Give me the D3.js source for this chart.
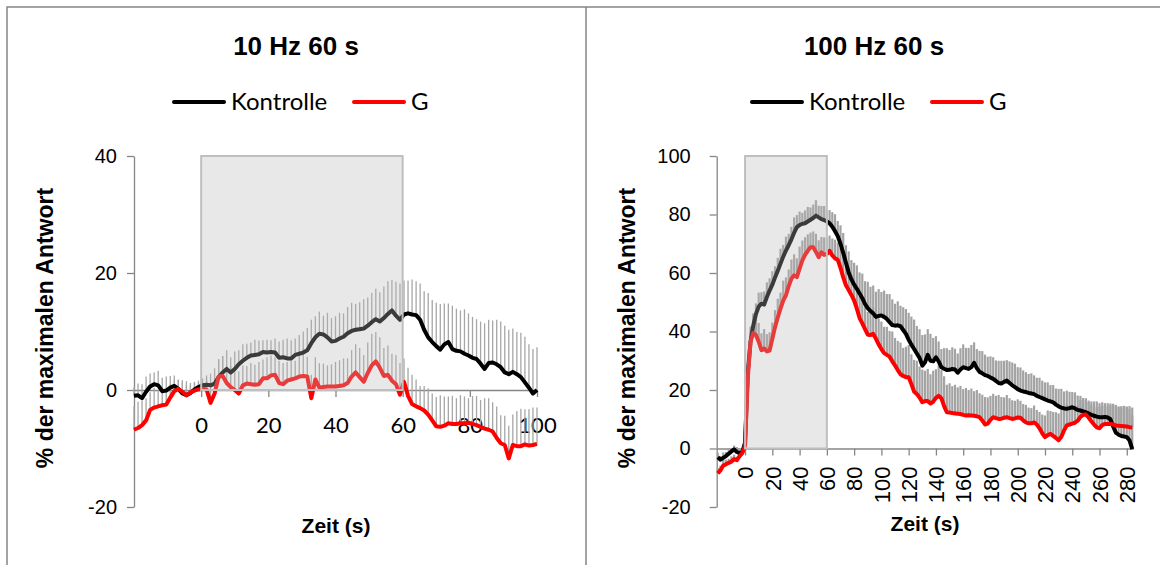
<!DOCTYPE html>
<html>
<head>
<meta charset="utf-8">
<script src="https://cdn.jsdelivr.net/npm/d3@7"></script>
<style>
  body { margin: 0; background: #fff; }
  svg { display: block; font-family: "Liberation Sans", Arial, sans-serif; }
</style>
</head>
<body>
<svg id="chart" width="1160" height="565"></svg>
<script>
// ---- data ----
// 10 Hz panel: samples every 1.2 s from -20 s
var start10 = -20, step10 = 1.2;
var kontrolle10 = [
  -1.0,-0.9,-1.4,-0.3,0.6,1.0,0.8,-0.2,-0.1,0.4,
  0.7,0.2,-0.6,-0.9,-0.5,0.1,0.5,0.8,0.9,0.8,
  1.1,2.2,3.0,3.6,3.0,3.6,4.4,5.0,5.5,5.9,
  6.0,6.1,6.5,6.4,6.5,6.4,5.5,5.6,5.4,5.4,
  6.0,6.2,6.4,6.8,8.0,9.0,9.6,9.5,9.0,8.3,
  8.4,8.8,9.1,9.7,10.1,10.3,10.4,10.5,11.0,11.6,
  12.1,11.7,12.3,13.0,13.6,12.7,12.0,12.9,13.1,12.9,
  12.8,12.0,10.3,9.0,8.2,7.5,6.9,7.8,8.2,7.0,
  6.7,6.6,6.2,5.9,5.5,5.3,4.5,3.6,4.6,4.7,
  4.4,3.9,3.0,2.7,3.1,2.7,2.2,1.3,0.4,-0.6,
  0.0];
var kontrolle10Err = [
  1.5,2.0,2.4,2.6,2.2,2.0,2.5,2.3,2.4,2.0,
  1.8,1.6,1.9,1.7,1.4,1.3,1.1,1.2,1.6,2.0,
  2.6,3.0,2.8,3.2,2.6,3.0,2.4,2.8,2.4,2.2,
  2.6,2.3,2.0,2.2,2.0,2.4,2.8,3.0,3.4,3.1,
  2.8,3.2,3.6,3.8,4.0,3.6,3.8,3.2,4.2,4.0,
  4.2,4.4,4.0,4.5,4.8,4.4,4.6,5.0,4.8,5.0,
  5.2,5.0,5.4,5.6,5.2,5.8,6.2,5.8,5.6,6.0,
  5.8,6.2,6.6,7.6,7.2,7.4,7.8,7.0,6.6,7.4,
  7.2,7.0,7.6,7.2,7.0,6.8,7.2,7.8,7.4,7.2,
  7.6,7.8,8.0,7.6,7.4,7.2,7.6,7.8,7.4,7.6,
  7.3];
var g10 = [
  -6.8,-6.5,-6.0,-5.2,-3.4,-3.0,-2.8,-2.6,-2.5,-1.3,
  -0.2,0.2,-0.3,-0.9,-0.4,-0.1,0.1,0.2,0.1,-2.2,
  -0.6,2.3,2.4,1.2,0.5,0.0,-0.6,0.8,1.1,1.0,
  0.9,1.0,2.0,2.0,2.5,2.6,1.2,1.0,1.6,1.8,
  2.0,2.3,2.4,2.3,-1.4,1.8,0.4,0.5,0.6,0.6,
  0.6,0.7,0.8,1.2,2.3,3.0,2.2,1.4,2.9,4.2,
  4.9,3.8,2.4,2.6,1.6,1.0,-0.8,1.4,-1.0,-2.4,
  -2.8,-3.1,-3.5,-4.2,-5.2,-6.2,-6.3,-6.1,-5.7,-5.8,
  -5.8,-5.7,-5.7,-5.6,-5.8,-6.0,-6.3,-6.6,-6.8,-7.1,
  -8.2,-9.1,-9.4,-11.7,-9.4,-9.6,-9.6,-9.3,-9.5,-9.4,
  -9.2];
var g10Err = [
  4.0,4.5,4.2,3.8,3.0,3.4,2.8,3.2,2.6,2.2,
  1.8,1.5,2.0,2.4,1.6,1.4,1.2,1.5,2.0,3.2,
  2.6,3.0,3.4,3.0,3.6,3.2,3.8,3.4,3.0,3.6,
  3.4,3.8,3.2,3.6,3.4,3.0,3.8,3.6,3.2,3.4,
  3.0,3.6,4.8,3.4,4.0,3.8,4.2,4.0,3.6,3.8,
  4.2,4.4,4.6,4.2,4.5,4.8,5.0,4.6,5.2,5.4,
  5.0,5.2,4.8,5.0,4.6,5.0,5.4,4.0,4.8,5.0,
  4.6,3.8,4.2,4.5,4.6,5.0,5.4,5.0,4.6,4.8,
  4.4,4.8,4.6,4.2,4.8,5.0,4.6,5.2,5.4,5.0,
  5.4,4.8,5.0,5.6,5.2,6.0,6.4,6.0,6.2,6.4,
  6.2];

// 100 Hz panel: samples every 2 s from -20 s
var start100 = -20, step100 = 2;
var kontrolle100 = [
  -3.0,-3.8,-3.2,-2.6,-1.8,-1.0,-0.3,-1.2,-1.6,-1.2,
  2.0,26.0,36.5,42.0,46.0,48.5,49.5,49.2,51.8,54.0,
  56.0,58.5,60.8,63.2,65.6,67.7,69.5,71.5,73.8,75.7,
  76.4,76.8,77.0,77.6,78.2,78.8,79.6,79.0,78.4,78.1,
  77.6,77.0,75.8,74.3,72.6,70.0,66.9,63.5,60.2,57.8,
  56.0,54.6,53.0,51.4,49.4,48.0,47.0,46.2,45.0,45.3,
  45.5,45.0,44.3,43.2,42.2,42.0,42.1,41.8,40.5,39.2,
  37.2,35.5,34.0,32.5,31.0,28.3,29.5,32.0,30.0,29.8,
  31.2,29.8,27.8,27.3,26.8,26.9,27.2,27.0,25.9,27.0,
  27.8,27.5,27.2,27.8,29.3,27.5,26.2,25.7,25.1,24.8,
  24.3,23.8,23.1,22.4,22.2,22.8,23.2,22.4,21.6,21.0,
  20.3,19.8,19.5,19.3,19.0,18.8,18.6,18.0,17.6,17.2,
  16.8,16.4,16.1,15.8,15.0,14.4,14.0,13.7,13.6,13.8,
  14.1,13.7,13.2,13.0,12.7,12.4,12.0,11.5,11.2,10.9,
  10.7,10.7,10.8,10.6,10.0,7.5,5.4,4.7,4.3,4.1,
  3.9,2.8,-0.2];
var kontrolle100Err = [
  1.5,1.2,1.8,1.4,1.6,1.0,1.3,1.7,1.5,1.2,
  2.0,3.0,3.5,4.2,3.6,4.8,3.9,4.5,5.0,4.2,
  4.6,3.8,4.4,5.1,4.0,4.7,3.9,4.3,5.2,4.1,
  4.6,3.8,4.4,5.0,4.2,4.6,5.3,4.0,4.5,4.8,
  4.1,4.5,5.0,5.8,5.2,6.3,6.8,6.0,7.2,6.6,
  7.5,8.0,7.2,8.4,7.8,9.0,8.3,9.5,8.6,9.2,
  8.0,9.0,8.5,9.6,8.8,7.5,8.2,7.0,7.8,8.5,
  9.2,9.6,10.1,9.4,9.8,10.5,9.5,8.8,9.2,8.0,
  7.2,6.8,6.2,7.0,7.5,6.8,7.4,7.1,6.6,7.3,
  7.8,6.9,7.2,7.6,7.0,6.5,7.2,7.6,7.0,6.6,
  7.2,7.4,7.0,7.6,7.8,7.2,7.0,7.4,7.8,8.0,
  7.5,7.9,7.2,6.8,6.5,6.9,6.4,6.2,6.6,6.0,
  5.8,6.2,5.6,5.9,5.5,6.0,6.4,5.8,6.2,5.6,
  5.2,5.5,4.9,5.0,4.6,4.8,4.4,4.6,4.9,5.2,
  4.8,5.1,4.7,4.9,5.4,7.8,9.0,9.5,9.8,10.2,
  10.4,10.8,11.5];
var g100 = [
  -8.5,-7.4,-5.8,-5.4,-4.9,-4.5,-3.6,-4.0,-2.6,-1.6,
  1.0,24.0,36.5,39.5,38.8,36.5,33.6,34.2,33.2,33.5,
  37.5,41.5,44.8,47.8,50.6,52.4,55.5,58.0,59.2,58.6,
  61.5,64.3,66.2,67.6,68.8,68.8,67.2,65.4,67.1,66.2,
  66.5,67.6,66.0,65.0,64.5,61.8,58.5,55.8,54.2,52.5,
  50.6,47.8,44.6,42.8,40.8,38.9,38.8,39.2,37.5,35.6,
  34.0,32.6,32.0,31.4,29.8,28.4,26.8,25.4,24.8,24.4,
  24.4,22.0,19.5,18.6,17.4,15.8,16.2,16.2,15.4,16.0,
  17.3,18.0,17.2,14.5,12.4,12.3,12.1,12.0,11.9,11.8,
  11.5,11.3,11.4,11.3,11.2,11.0,10.7,9.6,8.2,8.5,
  9.8,10.7,10.4,10.1,10.2,10.5,10.7,10.4,10.1,10.3,
  10.6,10.5,9.6,8.9,8.6,8.6,8.9,8.2,6.9,5.2,
  3.9,4.6,5.0,4.3,3.6,2.8,4.0,6.2,7.9,8.2,
  8.5,8.8,9.5,10.8,11.5,11.6,10.6,9.3,8.2,7.2,
  6.9,8.0,8.4,8.4,8.4,8.2,7.9,7.8,7.7,7.6,
  7.5,7.3,7.2];
var g100Err = [
  1.8,1.5,2.0,1.6,1.4,1.8,1.5,1.2,1.6,1.4,
  2.0,4.0,5.2,6.0,5.5,6.4,5.8,6.6,5.9,6.2,
  5.6,5.8,6.4,5.5,6.8,6.1,5.7,6.6,7.2,6.4,
  7.5,6.8,6.0,5.6,5.0,5.4,6.2,5.8,5.2,6.0,
  5.5,5.2,5.8,6.4,5.9,6.8,7.4,6.6,7.8,7.0,
  7.6,8.2,7.4,8.0,8.6,7.8,8.4,9.0,8.2,8.8,
  9.4,9.0,9.6,8.8,10.2,9.4,10.0,10.8,9.6,10.4,
  11.0,10.2,10.8,11.4,10.6,11.2,10.4,11.0,10.0,10.6,
  9.8,10.4,9.6,10.2,9.4,10.0,9.2,9.8,9.0,9.6,
  8.8,9.4,8.6,9.2,8.4,9.0,8.2,8.8,9.4,9.0,
  8.2,8.0,7.6,8.2,7.4,7.0,7.6,6.8,6.4,6.0,
  6.2,5.8,5.6,6.0,5.4,5.2,5.8,5.0,5.6,6.4,
  7.4,8.4,7.8,8.2,8.8,9.2,9.6,8.6,7.2,6.4,
  6.0,5.6,5.2,5.8,5.0,4.8,5.2,5.6,6.2,6.8,
  7.4,6.6,6.2,6.0,6.4,6.8,7.0,6.6,6.8,7.0,
  6.8,7.2,6.8];

// ticks, labels, stimulation window
var xTicks10 = [0, 20, 40, 60, 80, 100];
var yTicks10 = [-20, 0, 20, 40];
var xTicks100 = [0, 20, 40, 60, 80, 100, 120, 140, 160, 180, 200, 220, 240, 260, 280];
var yTicks100 = [-20, 0, 20, 40, 60, 80, 100];
var stimulus = [0, 60];
var seriesNames = ["Kontrolle", "G"];
var seriesColors = ["#000000", "#ff0000"];
var yTitle = "% der maximalen Antwort";
var xTitle = "Zeit (s)";

var svg = d3.select("#chart");
var axisColor = "#868686";
var plain = function(d) { return String(d); };   // hyphen minus like the original

// outer frame of the two chart boxes
svg.append("path")
  .attr("d", "M7,565V7H1160M586,7V565")
  .attr("fill", "none")
  .attr("stroke", "#858585")
  .attr("stroke-width", 1.5);

function drawPanel(p) {
  var g = svg.append("g");

  var x = d3.scaleLinear().domain(p.xDomain).range(p.xRange);
  var y = d3.scaleLinear().domain(p.yDomain).range([507, 156]);

  var series = [
    { name: seriesNames[0], color: seriesColors[0], values: p.kontrolle, err: p.kontrolleErr },
    { name: seriesNames[1], color: seriesColors[1], values: p.g, err: p.gErr }
  ];
  series.forEach(function(s) {
    s.points = s.values.map(function(v, i) {
      return { t: p.start + i * p.step, v: v, e: s.err[i] };
    });
  });

  // y axis
  var yAxis = g.append("g")
    .attr("transform", "translate(" + p.xRange[0] + ",0)")
    .call(d3.axisLeft(y).tickValues(p.yTicks).tickFormat(plain)
      .tickSize(7).tickSizeOuter(0).tickPadding(p.yPad));
  yAxis.selectAll("text")
    .attr("font-family", "'Liberation Sans', Arial, sans-serif")
    .attr("font-size", "20px")
    .attr("fill", "#000");

  // x axis crossing at 0
  var xAxis = g.append("g")
    .attr("transform", "translate(0," + y(0) + ")")
    .call(d3.axisBottom(x).tickValues(p.xTicks).tickFormat(plain)
      .tickSize(7).tickSizeOuter(0));
  if (p.rotateX) {
    xAxis.selectAll("text")
      .attr("x", 0).attr("y", 0).attr("dy", "0.35em")
      .attr("transform", "translate(0,18) rotate(-90)")
      .style("text-anchor", "end")
      .attr("font-family", "'Liberation Sans', Arial, sans-serif")
      .attr("font-size", "22px")
      .attr("fill", "#000");
  } else {
    xAxis.selectAll("text")
      .attr("y", 35).attr("dy", "0.35em")
      .attr("font-family", "Lato, 'Open Sans', sans-serif")
      .attr("font-size", "22px")
      .attr("fill", "#000");
  }
  [yAxis, xAxis].forEach(function(a) {
    a.select(".domain").attr("stroke", axisColor).attr("stroke-width", 1.3);
    a.selectAll(".tick line").attr("stroke", axisColor).attr("stroke-width", 1.3);
  });

  // error bars (upper only)
  series.forEach(function(s) {
    g.append("g").selectAll("line")
      .data(s.points)
      .enter().append("line")
      .attr("x1", function(d) { return x(d.t); })
      .attr("x2", function(d) { return x(d.t); })
      .attr("y1", function(d) { return y(d.v); })
      .attr("y2", function(d) { return y(d.v + d.e); })
      .attr("stroke", p.barColor)
      .attr("stroke-width", p.barWidth);
  });

  // mean lines
  var line = d3.line()
    .x(function(d) { return x(d.t); })
    .y(function(d) { return y(d.v); });
  series.forEach(function(s) {
    g.append("path")
      .datum(s.points)
      .attr("d", line)
      .attr("fill", "none")
      .attr("stroke", s.color)
      .attr("stroke-width", 4)
      .attr("stroke-linejoin", "round");
  });

  // stimulation window, drawn translucent over the data
  g.append("rect")
    .attr("x", x(stimulus[0]))
    .attr("y", y(p.yDomain[1]))
    .attr("width", x(stimulus[1]) - x(stimulus[0]))
    .attr("height", y(0) - y(p.yDomain[1]))
    .attr("fill", "rgb(182,182,182)")
    .attr("fill-opacity", 0.32)
    .attr("stroke", "#bfbfbf")
    .attr("stroke-width", 2);

  // title
  g.append("text")
    .attr("x", p.center).attr("y", 55)
    .attr("text-anchor", "middle")
    .attr("font-size", "26px").attr("font-weight", "bold")
    .text(p.title);

  // legend
  var lg = g.append("g").attr("transform", "translate(" + (p.center - 122) + ",102)");
  var offsets = [0, 180];
  series.forEach(function(s, i) {
    lg.append("line")
      .attr("x1", offsets[i]).attr("x2", offsets[i] + 50)
      .attr("y1", 0).attr("y2", 0)
      .attr("stroke", s.color).attr("stroke-width", 4)
      .attr("stroke-linecap", "round");
    lg.append("text")
      .attr("x", offsets[i] + 57).attr("y", 0).attr("dy", "0.35em")
      .attr("font-family", "Lato, 'Open Sans', sans-serif")
      .attr("font-size", "24px")
      .text(s.name);
  });

  // axis titles
  g.append("text")
    .attr("transform", "translate(" + p.yTitleX + ",328) rotate(-90)")
    .attr("text-anchor", "middle")
    .attr("dy", "0.35em")
    .attr("font-size", "23px").attr("font-weight", "bold")
    .text(yTitle);
  g.append("text")
    .attr("x", p.xTitleX).attr("y", p.xTitleY)
    .attr("text-anchor", "middle")
    .attr("font-size", "21px").attr("font-weight", "bold")
    .text(xTitle);
}

drawPanel({
  title: "10 Hz 60 s", center: 296,
  kontrolle: kontrolle10, kontrolleErr: kontrolle10Err, g: g10, gErr: g10Err,
  start: start10, step: step10,
  xDomain: [-20, 100], xRange: [134, 537],
  yDomain: [-20, 40],
  xTicks: xTicks10, yTicks: yTicks10,
  yPad: 10, rotateX: false, barWidth: 1.3, barColor: "#a6a6a6",
  yTitleX: 45, xTitleX: 336, xTitleY: 533
});

drawPanel({
  title: "100 Hz 60 s", center: 874,
  kontrolle: kontrolle100, kontrolleErr: kontrolle100Err, g: g100, gErr: g100Err,
  start: start100, step: step100,
  xDomain: [-20.8, 285], xRange: [716.7, 1133.6],
  yDomain: [-20, 100],
  xTicks: xTicks100, yTicks: yTicks100,
  yPad: 19, rotateX: true, barWidth: 2.2, barColor: "#a3a3a3",
  yTitleX: 627, xTitleX: 925, xTitleY: 531
});
</script>
</body>
</html>
